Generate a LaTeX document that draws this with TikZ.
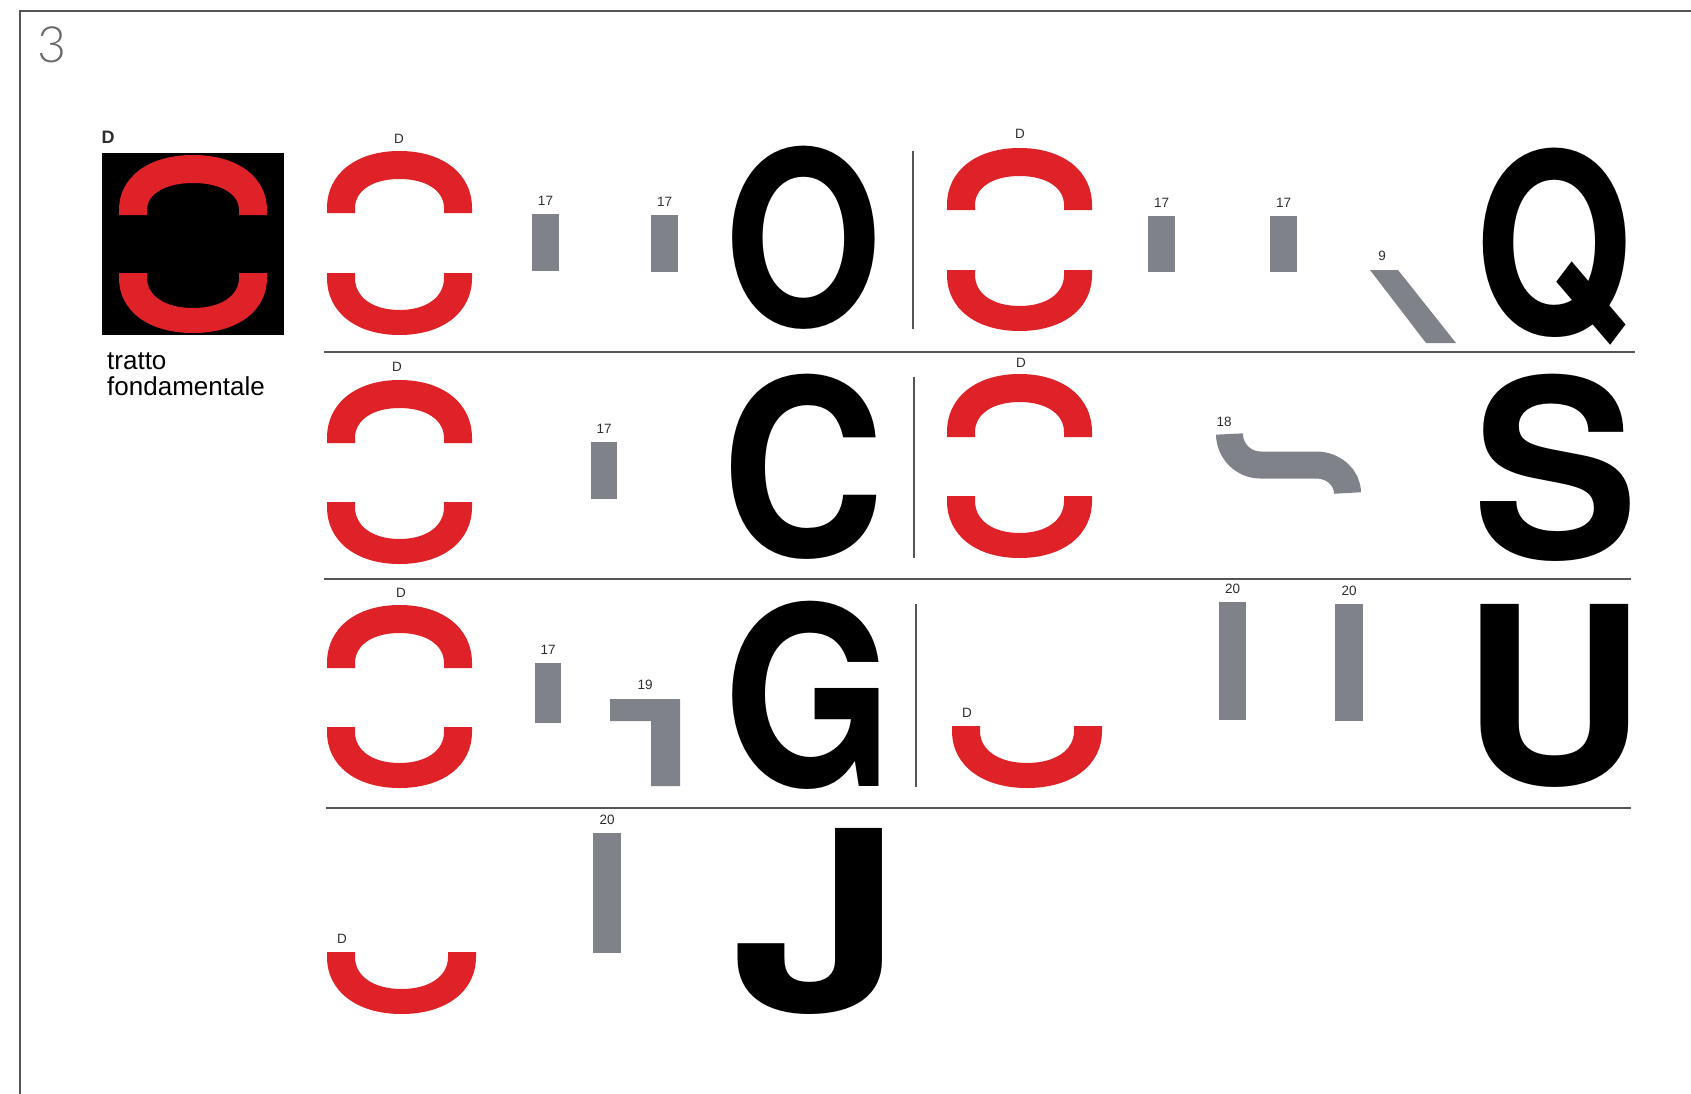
\documentclass[tikz,border=0pt]{standalone}
\usepackage{fontspec}
\setmainfont{Liberation Sans}
\IfFontExistsTF{Lato Light}
  {\newfontfamily\pagefont{Lato Light}}
  {\newfontfamily\pagefont{Lato}}
\newfontfamily\labelfont{Liberation Sans}
\newfontfamily\letterfont{TeX Gyre Heros}[UprightFont=* Bold]

\definecolor{modred}{RGB}{222,34,40}
\definecolor{modgray}{RGB}{128,130,138}
\definecolor{rulegray}{RGB}{85,85,85}
\definecolor{inkgray}{RGB}{45,45,45}
\definecolor{pagegray}{RGB}{105,105,105}

\def\archh{28}
\def\archvt{28}
\def\archvb{25}
\def\archleg{5}
\def\archk{0.6}
\newcommand\archtop[4]{%
  \pgfmathsetmacro\arL{#1}\pgfmathsetmacro\arR{#1+#3}\pgfmathsetmacro\arC{#1+#3/2}
  \pgfmathsetmacro\arB{#2+#4}\pgfmathsetmacro\arS{#2+#4-\archleg}\pgfmathsetmacro\arT{#2}
  \pgfmathsetmacro\arI{#2+\archvt}
  \pgfmathsetmacro\arkx{\archk*#3/2}\pgfmathsetmacro\arky{\archk*(#4-\archleg)}
  \pgfmathsetmacro\arkxi{\archk*(#3/2-\archh)}\pgfmathsetmacro\arkyi{\archk*(#4-\archleg-\archvt)}
  \fill[arch] (\arL,\arB) -- (\arL,\arS)
    .. controls (\arL,{\arS-\arky}) and ({\arC-\arkx},\arT) .. (\arC,\arT)
    .. controls ({\arC+\arkx},\arT) and (\arR,{\arS-\arky}) .. (\arR,\arS)
    -- (\arR,\arB) -- ({\arR-\archh},\arB) -- ({\arR-\archh},\arS)
    .. controls ({\arR-\archh},{\arS-\arkyi}) and ({\arC+\arkxi},\arI) .. (\arC,\arI)
    .. controls ({\arC-\arkxi},\arI) and ({\arL+\archh},{\arS-\arkyi}) .. ({\arL+\archh},\arS)
    -- ({\arL+\archh},\arB) -- cycle;}
\newcommand\archbot[4]{%
  \pgfmathsetmacro\arL{#1}\pgfmathsetmacro\arR{#1+#3}\pgfmathsetmacro\arC{#1+#3/2}
  \pgfmathsetmacro\arB{#2+#4}\pgfmathsetmacro\arS{#2+\archleg}\pgfmathsetmacro\arT{#2}
  \pgfmathsetmacro\arI{#2+#4-\archvb}
  \pgfmathsetmacro\arkx{\archk*#3/2}\pgfmathsetmacro\arky{\archk*(#4-\archleg)}
  \pgfmathsetmacro\arkxi{\archk*(#3/2-\archh)}\pgfmathsetmacro\arkyi{\archk*(#4-\archleg-\archvb)}
  \fill[arch] (\arL,\arT) -- (\arL,\arS)
    .. controls (\arL,{\arS+\arky}) and ({\arC-\arkx},\arB) .. (\arC,\arB)
    .. controls ({\arC+\arkx},\arB) and (\arR,{\arS+\arky}) .. (\arR,\arS)
    -- (\arR,\arT) -- ({\arR-\archh},\arT) -- ({\arR-\archh},\arS)
    .. controls ({\arR-\archh},{\arS+\arkyi}) and ({\arC+\arkxi},\arI) .. (\arC,\arI)
    .. controls ({\arC-\arkxi},\arI) and ({\arL+\archh},{\arS+\arkyi}) .. ({\arL+\archh},\arS)
    -- ({\arL+\archh},\arT) -- cycle;}

\begin{document}
\begin{tikzpicture}[x=1pt,y=-1pt,
  arch/.style={fill=modred},
  module/.style={fill=modgray},
  numlabel/.style={font=\labelfont\fontsize{13.5}{14}\selectfont,text=inkgray,inner sep=0pt},
  caption/.style={font=\labelfont\fontsize{26}{26}\selectfont,anchor=base west,inner sep=0pt},
  letter/.style={anchor=north west,inner sep=0pt,font=\letterfont},
  rowrule/.style={draw=rulegray,line width=1.8pt},
  colrule/.style={draw=rulegray,line width=1.2pt}]
  \useasboundingbox (0,0) rectangle (1691,1094);
  \draw[rulegray,line width=2pt] (20,1094) -- (20,11) -- (1691,11);
  \node[text=pagegray,font=\pagefont\fontsize{50}{50}\selectfont,inner sep=0pt] (pagenum) at (52,45) {3};

  \node[fill=black,minimum size=182pt,inner sep=0pt,anchor=north west] (dbox) at (102,153) {};
  \node[numlabel,font=\labelfont\bfseries\fontsize{18}{18}\selectfont] (dhead) at (108,137) {D};
  \node[caption] (capA) at (107,369) {tratto};
  \node[caption] (capB) at (107,395) {fondamentale};

  \foreach \ax/\ay/\aw/\ah in {119/155/148/60,327/151/145/62,947/148/145/62,
                               327/380/145/63,947/374/145/63,327/605/145/63}
    {\archtop{\ax}{\ay}{\aw}{\ah}}
  \foreach \ax/\ay/\aw/\ah in {119/273/148/60,327/273/145/62,947/270/145/61,327/502/145/62,
                               947/496/145/62,327/727/145/61,952/726/150/62,327/952/149/62}
    {\archbot{\ax}{\ay}{\aw}{\ah}}
  \foreach \lx/\ly/\nm in {399/139/dA,1020/134/dB,397/367/dC,1021/363/dD,
                           401/593/dE,967/713/dF,342/939/dG}
    {\node[numlabel] (\nm) at (\lx,\ly) {D};}

  \foreach \bx/\by/\bw/\bh/\num/\nm in {532/214/27/57/17/a,651/215/27/57/17/b,
      1148/216/27/56/17/c,1270/216/27/56/17/d,591/442/26/57/17/e,535/663/26/60/17/f,
      1219/602/27/118/20/g,1335/604/28/117/20/h,593/833/28/120/20/i}
  {
    \fill[module] (\bx,\by) rectangle ++(\bw,\bh);
    \node[numlabel] (n\nm) at ({\bx+\bw/2},{\by-13}) {\num};
  }
  \fill[module] (1370,270) -- (1398,270) -- (1456,343) -- (1426,343) -- cycle;
  \node[numlabel] (nq) at (1382,256) {9};
  \draw[modgray,line width=27pt] (1229.5,434) .. controls (1229.5,451) and (1243.4,465) .. (1260.5,465)
        -- (1316,465) .. controls (1333.4,465) and (1347.5,477.5) .. (1347.5,493);
  \node[numlabel] (ns) at (1224,422) {18};
  \fill[module] (610,699) -- (680,699) -- (680,786) -- (651,786) -- (651,721) -- (610,721) -- cycle;
  \node[numlabel] (nl) at (645,685) {19};

  \draw[rowrule] (324,352) -- (1635,352);
  \draw[rowrule] (324,579) -- (1631,579);
  \draw[rowrule] (326,808) -- (1631,808);
  \draw[colrule] (913,151) -- (913,329);
  \draw[colrule] (914,377) -- (914,558);
  \draw[colrule] (916,604) -- (916,787);

  \foreach \lx/\ly/\lw/\lh/\ch in {724.7/146/157.6/183/O,721/374/163.6/185/C,723.4/601/169.8/188/G,
      1474/148/158/197/Q,1472/374/165.9/187/S,1461.6/604/184.5/183/U,730.5/828/173.4/186/J}
    {\node[letter] (let\ch) at (\lx,\ly) {\resizebox*{\lw pt}{\lh pt}{\ch}};}
\end{tikzpicture}
\end{document}
